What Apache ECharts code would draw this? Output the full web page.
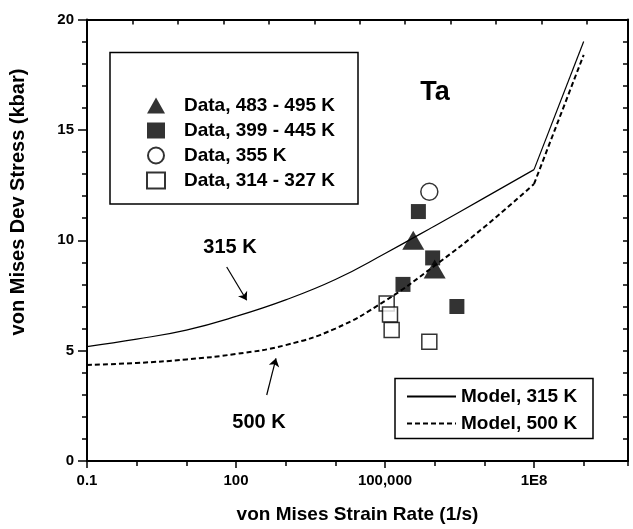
<!DOCTYPE html>
<html>
<head>
<meta charset="utf-8">
<script src="https://cdn.jsdelivr.net/npm/echarts@6/dist/echarts.min.js"></script>
<style>
html, body { margin: 0; padding: 0; background: #fff; }
#main { width: 633px; height: 529px; }
</style>
</head>
<body>
<div id="main"></div>
<script>
// data (strain rate in 1/s, stress in kbar)
var triRate = [3.7e5, 1.0e6];
var triStress = [10.0, 8.7];
var fsqRate = [4.7e5, 9.1e5, 2.3e5, 2.8e6];
var fsqStress = [11.3, 9.2, 8.0, 7.0];
var circRate = [7.8e5];
var circStress = [12.2];
var osqRate = [1.08e5, 1.26e5, 1.36e5, 7.8e5];
var osqStress = [7.13, 6.64, 5.93, 5.4];

var modelRate = [0.1, 1, 10, 100, 1e3, 1e4, 1e5, 1e6, 1e7, 1e8, 1e9];
var model315 = [5.18, 5.52, 5.93, 6.55, 7.3, 8.22, 9.4, 10.65, 11.92, 13.2, 19.0];
var model500 = [4.35, 4.44, 4.6, 4.85, 5.25, 6.0, 7.25, 8.85, 10.6, 12.55, 18.4];
// the model curves bend sharply at this point
var kinkIndex = 9;

// annotation arrows: [start, end] in data units
var arrow315 = [[65, 8.79], [164, 7.28]];
var arrow500 = [[415, 2.99], [638, 4.65]];

var xLabels = { '-1': '0.1', '2': '100', '5': '100,000', '8': '1E8' };

var FONT = '"Liberation Sans", Arial, Helvetica, sans-serif';

function pairs(xs, ys) {
    var arr = [];
    for (var i = 0; i < xs.length; i++) {
        arr.push([xs[i], ys[i]]);
    }
    return arr;
}

var chart = echarts.init(document.getElementById('main'));

var solidStyle = { color: '#000', width: 1.2, type: 'solid' };
var dashStyle = { color: '#000', width: 2, type: [5, 3] };
var arrowMark = function (arrow) {
    return {
        silent: true,
        symbol: ['none', 'arrow'],
        symbolSize: 8,
        label: { show: false },
        lineStyle: { color: '#000', width: 1.2, type: 'solid' },
        data: [[{ coord: arrow[0] }, { coord: arrow[1] }]]
    };
};

var option = {
    animation: false,
    textStyle: { fontFamily: FONT },
    grid: { left: 87, right: 5, top: 19.5, bottom: 66 },
    xAxis: [{
        // labelled ticks every 3 decades
        type: 'log',
        logBase: 10,
        min: 0.1,
        max: 7.8e9,
        interval: 3,
        position: 'bottom',
        name: 'von Mises Strain Rate (1/s)',
        nameLocation: 'middle',
        nameGap: 44,
        nameTextStyle: { fontFamily: FONT, fontWeight: 'bold', fontSize: 19, color: '#000' },
        axisLine: { onZero: false, lineStyle: { color: '#000', width: 2 } },
        axisTick: { inside: false, length: 7, lineStyle: { color: '#000', width: 1.5 } },
        minorTick: { show: false },
        splitLine: { show: false },
        axisLabel: {
            margin: 12,
            color: '#000',
            fontFamily: FONT,
            fontWeight: 'bold',
            fontSize: 15,
            showMaxLabel: false,
            formatter: function (v) {
                var k = Math.round(Math.log10(v));
                if (Math.abs(Math.log10(v) - k) > 1e-6) return '';
                return xLabels[String(k)] || '';
            }
        }
    }, {
        // top frame with its own inner ticks
        type: 'value',
        position: 'top',
        min: 0,
        max: 11.9,
        interval: 1,
        axisLine: { onZero: false, lineStyle: { color: '#000', width: 2 } },
        axisTick: { inside: true, length: 5, lineStyle: { color: '#000', width: 1.5 } },
        axisLabel: { show: false },
        splitLine: { show: false }
    }, {
        // one tick per decade
        type: 'log',
        logBase: 10,
        min: 0.1,
        max: 7.8e9,
        interval: 1,
        position: 'bottom',
        axisLine: { show: false, onZero: false },
        axisTick: { inside: false, length: 5, lineStyle: { color: '#000', width: 1.5 } },
        axisLabel: { show: false },
        splitLine: { show: false }
    }],
    yAxis: [{
        type: 'value',
        position: 'left',
        min: 0,
        max: 20,
        interval: 5,
        axisLine: { show: true, onZero: false, lineStyle: { color: '#000', width: 2 } },
        axisTick: { show: true, inside: false, length: 9, lineStyle: { color: '#000', width: 1.5 } },
        minorTick: { show: true, splitNumber: 5, length: 5, lineStyle: { color: '#000', width: 1.5 } },
        splitLine: { show: false },
        axisLabel: { margin: 13, color: '#000', fontFamily: FONT, fontWeight: 'bold', fontSize: 15 }
    }, {
        type: 'value',
        position: 'right',
        min: 0,
        max: 20,
        interval: 1,
        axisLine: { show: true, onZero: false, lineStyle: { color: '#000', width: 2 } },
        axisTick: { show: true, inside: true, length: 5, lineStyle: { color: '#000', width: 1.5 } },
        axisLabel: { show: false },
        splitLine: { show: false }
    }],
    legend: [{
        selectedMode: false,
        orient: 'vertical',
        left: 146,
        top: 96,
        padding: 0,
        itemWidth: 18,
        itemHeight: 16,
        itemGap: 6,
        textStyle: { fontFamily: FONT, fontWeight: 'bold', fontSize: 19, color: '#000', padding: [0, 0, 0, 14] },
        data: [
            { name: 'Data, 483 - 495 K', icon: 'triangle' },
            { name: 'Data, 399 - 445 K', icon: 'rect' },
            { name: 'Data, 355 K', icon: 'circle' },
            { name: 'Data, 314 - 327 K', icon: 'rect' }
        ]
    }, {
        selectedMode: false,
        orient: 'vertical',
        left: 406,
        top: 387,
        padding: 0,
        itemWidth: 49,
        itemHeight: 14,
        itemGap: 8,
        itemStyle: { opacity: 0 },
        textStyle: { fontFamily: FONT, fontWeight: 'bold', fontSize: 19, color: '#000' },
        data: ['Model, 315 K', 'Model, 500 K']
    }],
    graphic: [
        { type: 'rect', shape: { x: 110, y: 52.5, width: 248, height: 151.5 }, style: { fill: 'none', stroke: '#000', lineWidth: 1.5 } },
        { type: 'rect', shape: { x: 395, y: 378.5, width: 198, height: 60 }, style: { fill: 'none', stroke: '#000', lineWidth: 1.5 } },
        { type: 'text', x: 435, y: 93, style: { text: 'Ta', font: 'bold 27px ' + FONT, fill: '#000', textAlign: 'center', textVerticalAlign: 'middle' } },
        { type: 'text', x: 230, y: 247, style: { text: '315 K', font: 'bold 20px ' + FONT, fill: '#000', textAlign: 'center', textVerticalAlign: 'middle' } },
        { type: 'text', x: 259, y: 422, style: { text: '500 K', font: 'bold 20px ' + FONT, fill: '#000', textAlign: 'center', textVerticalAlign: 'middle' } },
        { type: 'text', x: 18, y: 202, rotation: Math.PI / 2, style: { text: 'von Mises Dev Stress (kbar)', font: 'bold 20px ' + FONT, fill: '#000', textAlign: 'center', textVerticalAlign: 'middle' } }
    ],
    series: [{
        name: 'Model, 315 K',
        type: 'line',
        symbol: 'none',
        smooth: 0.45,
        color: '#000',
        lineStyle: solidStyle,
        data: pairs(modelRate.slice(0, kinkIndex + 1), model315.slice(0, kinkIndex + 1)),
        markLine: arrowMark(arrow315)
    }, {
        name: 'Model, 315 K',
        type: 'line',
        symbol: 'none',
        color: '#000',
        lineStyle: solidStyle,
        data: pairs(modelRate.slice(kinkIndex), model315.slice(kinkIndex))
    }, {
        name: 'Model, 500 K',
        type: 'line',
        symbol: 'none',
        smooth: 0.45,
        color: '#000',
        lineStyle: dashStyle,
        data: pairs(modelRate.slice(0, kinkIndex + 1), model500.slice(0, kinkIndex + 1)),
        markLine: arrowMark(arrow500)
    }, {
        name: 'Model, 500 K',
        type: 'line',
        symbol: 'none',
        color: '#000',
        lineStyle: dashStyle,
        data: pairs(modelRate.slice(kinkIndex), model500.slice(kinkIndex))
    }, {
        name: 'Data, 483 - 495 K',
        type: 'scatter',
        symbol: 'triangle',
        symbolSize: [22, 19],
        itemStyle: { color: '#000' },
        data: pairs(triRate, triStress)
    }, {
        name: 'Data, 399 - 445 K',
        type: 'scatter',
        symbol: 'rect',
        symbolSize: 15,
        itemStyle: { color: '#000' },
        data: pairs(fsqRate, fsqStress)
    }, {
        name: 'Data, 355 K',
        type: 'scatter',
        symbol: 'circle',
        symbolSize: 17,
        itemStyle: { color: '#fff', borderColor: '#000', borderWidth: 1.5 },
        data: pairs(circRate, circStress)
    }, {
        name: 'Data, 314 - 327 K',
        type: 'scatter',
        symbol: 'rect',
        symbolSize: 15,
        itemStyle: { color: '#fff', borderColor: '#000', borderWidth: 1.5 },
        data: pairs(osqRate, osqStress)
    }]
};

chart.setOption(option);
</script>
</body>
</html>
